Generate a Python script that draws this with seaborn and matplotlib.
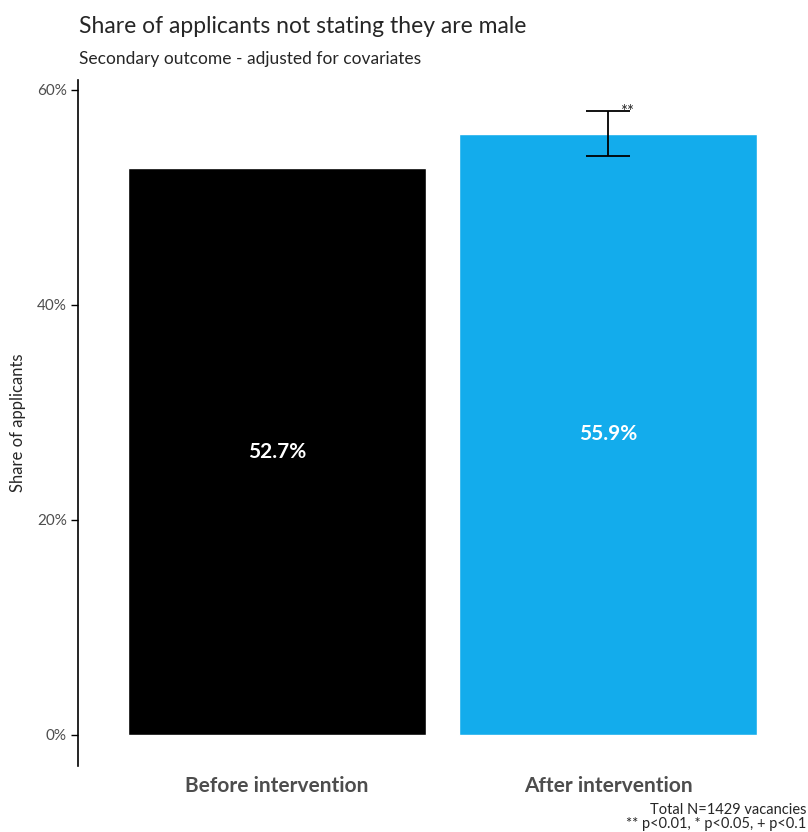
import numpy as np
import pandas as pd
import matplotlib
matplotlib.use("Agg")
import matplotlib.pyplot as plt
import seaborn as sns
from matplotlib.ticker import PercentFormatter

# data
groups = ["Before intervention", "After intervention"]
shares = [52.7, 55.9]
err_low = [None, 53.8]
err_high = [None, 58.0]
stars = ["", "**"]
bar_colors = ["#000000", "#13acec"]
y_ticks = [0, 20, 40, 60]

sns.set_style("white")
plt.rcParams["font.family"] = ["Lato", "DejaVu Sans"]

df = pd.DataFrame({"group": groups, "share": shares})

fig = plt.figure(figsize=(8.08, 8.32), dpi=100)
ax = fig.add_axes([0.0965, 0.0793, 0.9023, 0.8245])

sns.barplot(data=df, x="group", y="share", hue="group", palette=bar_colors,
            width=0.9, legend=False, ax=ax, saturation=1)

# error bar + significance stars
for i in range(len(groups)):
    if err_low[i] is None:
        continue
    mid = (err_low[i] + err_high[i]) / 2
    ax.errorbar(i, mid, yerr=[[mid - err_low[i]], [err_high[i] - mid]],
                fmt="none", ecolor="black", elinewidth=1.3, capsize=16, capthick=1.3)
    ax.text(i + 0.035, err_high[i] - 0.1, stars[i], fontsize=12, ha="left", va="center")

# value labels in the middle of each bar
for i, v in enumerate(shares):
    ax.text(i, v / 2, f"{v:.1f}%", color="white", fontsize=15, fontweight="bold",
            ha="center", va="center")

ax.set_xlim(-0.6, 1.6)
ax.set_ylim(-2.9, 60.9)
ax.set_yticks(y_ticks)
ax.yaxis.set_major_formatter(PercentFormatter(decimals=0))
ax.tick_params(axis="y", left=True, length=5, width=1, color="black",
               labelsize=11, labelcolor="#4d4d4d", pad=3)
ax.tick_params(axis="x", bottom=False, labelsize=15, labelcolor="#4d4d4d", pad=4)
for lab in ax.get_xticklabels():
    lab.set_fontweight("bold")
ax.set_xlabel("")
ax.set_ylabel("Share of applicants", fontsize=12, labelpad=8)

for s in ["top", "right", "bottom"]:
    ax.spines[s].set_visible(False)
ax.spines["left"].set_color("black")
ax.spines["left"].set_linewidth(1.2)

fig.text(0.098, 0.968, "Share of applicants not stating they are male", fontsize=16.5,
         ha="left", va="center")
fig.text(0.098, 0.929, "Secondary outcome - adjusted for covariates", fontsize=12.5,
         ha="left", va="center")
fig.text(0.998, 0.026 - 0.008, "Total N=1429 vacancies\n** p<0.01, * p<0.05, + p<0.1",
         fontsize=10.5, ha="right", va="center", linespacing=1.0)

fig.savefig("out.png", dpi=100)
